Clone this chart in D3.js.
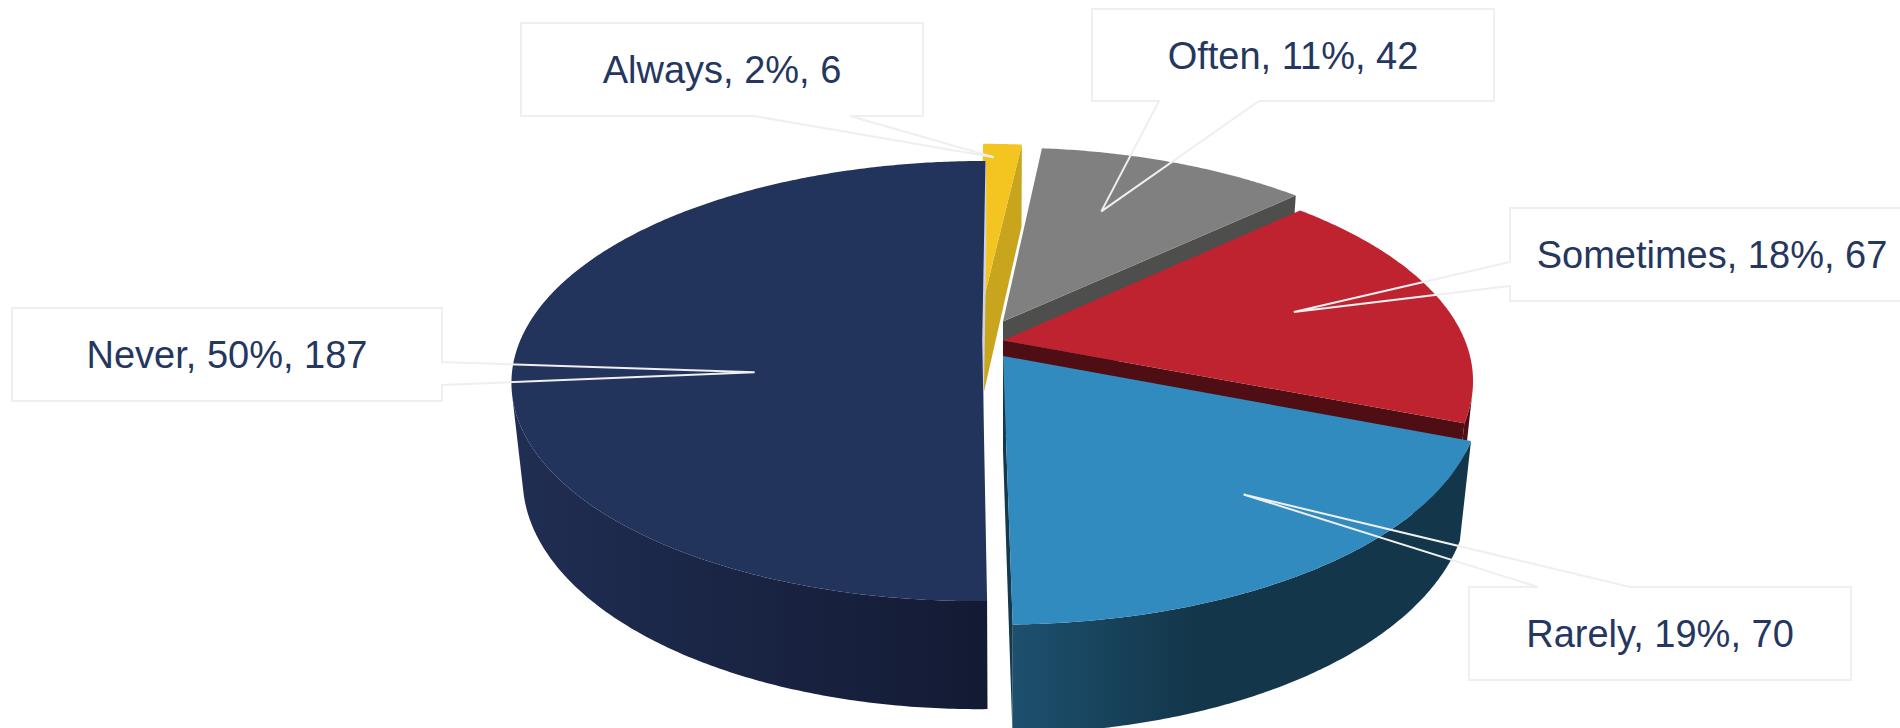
<!DOCTYPE html>
<html>
<head>
<meta charset="utf-8">
<script src="https://cdn.jsdelivr.net/npm/d3@7"></script>
<style>
  html, body { margin: 0; padding: 0; background: #fff; overflow: hidden; }
  #chart { width: 1900px; height: 728px; }
</style>
</head>
<body>
<div id="chart"></div>
<script>
// Dados
var categories = ["Always", "Often", "Sometimes", "Rarely", "Never"];
var counts = [6, 42, 67, 70, 187];

// Cores: topo, paredes radiais, lateral (gradiente esquerda -> direita)
var topColors = ["#f4c520", "#808080", "#be232f", "#318bbf", "#22335c"];
var wallColors = ["#c9a41d", "#4e4e4c", "#4f0e14", "#14384c", "#cfd3dc"];
var sideColors = [["#c9a41d", "#a8881a"], ["#5a5a58", "#454543"], ["#5a1018", "#4a0c12"],
                  ["#1d506e", "#13364a"], ["#202e53", "#131a33"]];

// Deslocamento (explosão) de cada fatia, em unidades do raio
var explodeX = [-0.052, 0, 0, 0, -0.045];
var explodeZ = [0.115, 0.09, 0, -0.072, 0];

// Ponto onde cada rótulo aponta (raio relativo, ângulo em graus)
var anchorR = [0.91, 0.64, 0.66, 0.73, 0.5];
var anchorDeg = [1.8, 22, 78, 141, 253];

// Caixas dos rótulos
var labelBoxes = [
  {x: 521, y: 23, w: 402, h: 93, side: "bottom", a: 754, b: 850},
  {x: 1092, y: 9, w: 402, h: 92, side: "bottom", a: 1159, b: 1259},
  {x: 1510, y: 208, w: 404, h: 93, side: "left", a: 262, b: 286},
  {x: 1469, y: 587, w: 382, h: 93, side: "top", a: 1538, b: 1630},
  {x: 12, y: 308, w: 430, h: 93, side: "right", a: 362, b: 385}
];

function createPie3D() {
  d3.select("#chart").select("svg").remove();

  var width = 1900, height = 728;
  var svg = d3.select("#chart")
    .append("svg")
      .attr("width", width)
      .attr("height", height);
  var defs = svg.append("defs");

  // Câmera em perspectiva
  var tilt = 27.4 * Math.PI / 180,
      sT = Math.sin(tilt), cT = Math.cos(tilt);
  var F = 2222, D = 4.81, cx = 1003, cy = 340.4, thick = 0.235;
  var camZ = -D * cT;

  function project(x, y, z) {
    var Y = y * cT + z * sT,
        Zc = D + z * cT - y * sT;
    return [cx + F * x / Zc, cy - F * Y / Zc];
  }

  var pie = d3.pie().sort(null).value(function(d) { return d; });
  var arcs = pie(counts);
  var total = d3.sum(counts);
  var line = d3.line();
  var step = 0.5 * Math.PI / 180;

  // gradientes das laterais
  sideColors.forEach(function(c, i) {
    var g = defs.append("linearGradient")
      .attr("id", "side" + i)
      .attr("x1", 0).attr("x2", 1).attr("y1", 0).attr("y2", 0);
    g.append("stop").attr("offset", 0).attr("stop-color", c[0]);
    g.append("stop").attr("offset", i === 3 ? 0.4 : 1).attr("stop-color", c[1]);
    g.append("stop").attr("offset", 1).attr("stop-color", c[1]);
  });

  var slices = arcs.map(function(d, i) {
    var a = d.startAngle, b = d.endAngle,
        ax = explodeX[i], az = explodeZ[i];
    var n = Math.max(2, Math.ceil((b - a) / step));
    var ts = d3.range(n + 1).map(function(k) { return a + (b - a) * k / n; });

    function rim(t, y) { return project(ax + Math.sin(t), y, az + Math.cos(t)); }

    var faces = [];

    // lateral externa: só a parte voltada para a câmera
    var vis = ts.filter(function(t) {
      var px = ax + Math.sin(t), pz = az + Math.cos(t);
      return Math.sin(t) * (-px) + Math.cos(t) * (camZ - pz) > 0;
    });
    if (vis.length > 1) {
      var pts = vis.map(function(t) { return rim(t, 0); })
        .concat(vis.slice().reverse().map(function(t) { return rim(t, -thick); }));
      faces.push({d: line(pts) + "Z", fill: "url(#side" + i + ")"});
    }

    // paredes radiais
    function radial(t, nx, nz) {
      if (nx * (0 - ax) + nz * (camZ - az) <= 0) return;
      var pts = [project(ax, 0, az), rim(t, 0), rim(t, -thick), project(ax, -thick, az)];
      faces.push({d: line(pts) + "Z", fill: wallColors[i], wall: true});
    }
    radial(a, -Math.cos(a), Math.sin(a));
    radial(b, Math.cos(b), -Math.sin(b));

    // topo
    var top = [project(ax, 0, az)].concat(ts.map(function(t) { return rim(t, 0); }));
    faces.push({d: line(top) + "Z", fill: topColors[i]});

    var mid = (a + b) / 2;
    var depth = D + (az + 0.6 * Math.cos(mid)) * cT;
    var ang = anchorDeg[i] * Math.PI / 180;
    var tip = project(ax + anchorR[i] * Math.sin(ang), 0, az + anchorR[i] * Math.cos(ang));
    return {i: i, faces: faces, depth: depth, tip: tip, value: d.data};
  });

  // desenha do fundo para a frente
  var order = slices.slice().sort(function(p, q) { return q.depth - p.depth; });
  var gPie = svg.append("g");
  order.forEach(function(s) {
    s.faces.forEach(function(f) {
      gPie.append("path")
        .attr("d", f.d)
        .attr("fill", f.fill)
        .attr("stroke", f.wall && s.i === 4 ? f.fill : "none")
        .attr("stroke-width", f.wall && s.i === 4 ? 1.2 : 0);
    });
  });

  // rótulos com chamada
  var gLab = svg.append("g");
  slices.forEach(function(s) {
    var bx = labelBoxes[s.i];
    var L = bx.x, R = bx.x + bx.w, T = bx.y, B = bx.y + bx.h;
    var tip = s.tip;
    var p;
    if (bx.side === "bottom") {
      p = [[bx.a, B], tip, [bx.b, B], [R, B], [R, T], [L, T], [L, B]];
    } else if (bx.side === "top") {
      p = [[bx.a, T], tip, [bx.b, T], [R, T], [R, B], [L, B], [L, T]];
    } else if (bx.side === "left") {
      p = [[L, bx.a], tip, [L, bx.b], [L, B], [R, B], [R, T], [L, T]];
    } else {
      p = [[R, bx.a], tip, [R, bx.b], [R, B], [L, B], [L, T], [R, T]];
    }
    gLab.append("rect")
      .attr("x", L).attr("y", T).attr("width", bx.w).attr("height", bx.h)
      .attr("fill", "#fff");
    gLab.append("path")
      .attr("d", line(p) + "Z")
      .attr("fill", "none")
      .attr("stroke", "#efefef")
      .attr("stroke-width", 2)
      .attr("stroke-linejoin", "miter");
    gLab.append("text")
      .attr("x", L + bx.w / 2)
      .attr("y", T + bx.h / 2 + 13.5)
      .attr("text-anchor", "middle")
      .style("font-family", "'Liberation Sans', Arial, sans-serif")
      .style("font-size", "38px")
      .style("fill", "#25375f")
      .text(categories[s.i] + ", " + Math.round(100 * s.value / total) + "%, " + s.value);
  });
}

document.addEventListener("DOMContentLoaded", function() {
  createPie3D();
});
</script>
</body>
</html>
